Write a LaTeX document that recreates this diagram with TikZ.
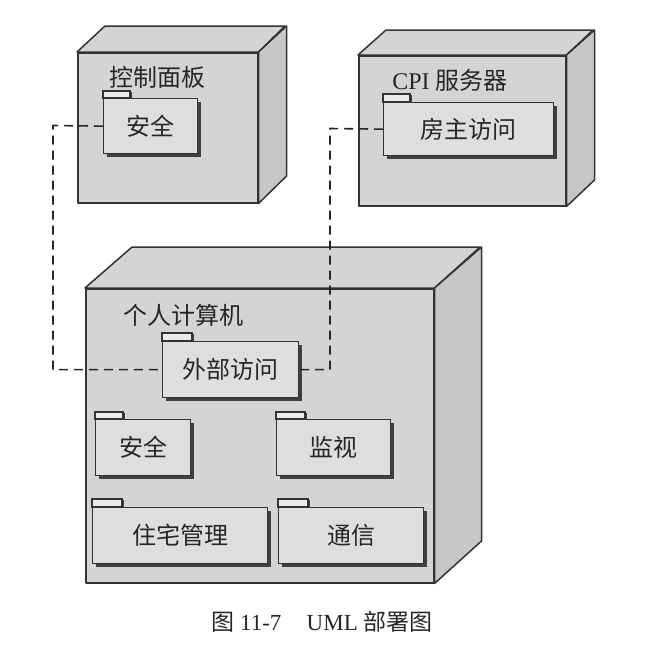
\documentclass[tikz,border=0pt]{standalone}
\usepackage{fontspec}
\setmainfont{Liberation Serif}
\newfontfamily\cjk{Noto Sans CJK SC}
\usetikzlibrary{shadows}
\begin{document}
\begin{tikzpicture}[x=1pt,y=-1pt,
  facefill/.style={draw=black!80, line width=1.5pt, fill=black!17, line join=round},
  sidefill/.style={draw=black!80, line width=1.5pt, fill=black!22, line join=round},
  front/.style={facefill, anchor=north west, inner sep=0pt},
  pkg/.style={draw=black!80, line width=1.3pt, fill=black!13, anchor=north west, inner sep=0pt,
    font=\cjk\fontsize{24}{28}\selectfont, text=black!85,
    drop shadow={shadow xshift=3pt, shadow yshift=-3pt, fill=black!75, opacity=1}},
  tabbox/.style={draw=black!80, line width=1.3pt, fill=white!92!black,
    drop shadow={shadow xshift=2pt, shadow yshift=-1pt, fill=black!75, opacity=1}},
  nodelabel/.style={font=\fontsize{24}{28}\selectfont, text=black!85, inner sep=0pt},
  conn/.style={draw=black!85, line width=1.6pt, dash pattern=on 9pt off 6pt}]
\useasboundingbox (0,0) rectangle (667,665);

% ---- node 1: control panel
\node[front, minimum width=180pt, minimum height=150pt] (n1) at (77,52) {};
\draw[facefill] (n1.north west) -- ++(28,-26) -- ++(180,0) -- (n1.north east) -- cycle;
\draw[sidefill] (n1.north east) -- ++(28,-26) -- ++(0,150) -- (n1.south east) -- cycle;
\node[nodelabel] (l1) at (157,77) {\cjk 控制面板};
\node[pkg, minimum width=94pt, minimum height=55pt] (p1) at (103,98) {安全};
\path[tabbox] (p1.north west) rectangle ++(27,-7);

% ---- node 2: CPI server
\node[front, minimum width=207pt, minimum height=150pt] (n2) at (358,55) {};
\draw[facefill] (n2.north west) -- ++(28,-25) -- ++(207,0) -- (n2.north east) -- cycle;
\draw[sidefill] (n2.north east) -- ++(28,-25) -- ++(0,150) -- (n2.south east) -- cycle;
\node[nodelabel] (l2) at (450,80) {CPI {\cjk 服务器}};
\node[pkg, minimum width=170pt, minimum height=53pt] (p2) at (383,102) {房主访问};
\path[tabbox] (p2.north west) rectangle ++(27,-8);

% ---- node 3: PC
\node[front, minimum width=348pt, minimum height=294pt] (n3) at (85,288) {};
\draw[facefill] (n3.north west) -- ++(47,-41) -- ++(348,0) -- (n3.north east) -- cycle;
\draw[sidefill] (n3.north east) -- ++(47,-41) -- ++(0,294) -- (n3.south east) -- cycle;
\node[nodelabel] (l3) at (183,315) {\cjk 个人计算机};

\node[pkg, minimum width=136pt, minimum height=56pt] (ext) at (162,341) {外部访问};
\path[tabbox] (ext.north west) rectangle ++(30,-8);

\node[pkg, minimum width=95pt, minimum height=56pt] (sec) at (95,419) {安全};
\path[tabbox] (sec.north west) rectangle ++(28,-7);

\node[pkg, minimum width=114pt, minimum height=56pt] (mon) at (276,419) {监视};
\path[tabbox] (mon.north west) rectangle ++(29,-7);

\node[pkg, minimum width=175pt, minimum height=56pt] (home) at (92,507) {住宅管理};
\path[tabbox] (home.north west) rectangle ++(30,-8);

\node[pkg, minimum width=145pt, minimum height=56pt] (comm) at (278,507) {通信};
\path[tabbox] (comm.north west) rectangle ++(30,-8);

% ---- connectors
\coordinate (c1) at (53,125.5);
\coordinate (c2) at (330,128.5);
\draw[conn] (p1.west) -- (c1) |- (ext.west);
\draw[conn] (p2.west) -- (c2) |- (ext.east);

% ---- caption
\node[font=\fontsize{23}{27}\selectfont, text=black!85, inner sep=0pt] (cap) at (322,622)
  {{\cjk 图} 11-7\hspace{1.1em}UML {\cjk 部署图}};
\end{tikzpicture}
\end{document}
